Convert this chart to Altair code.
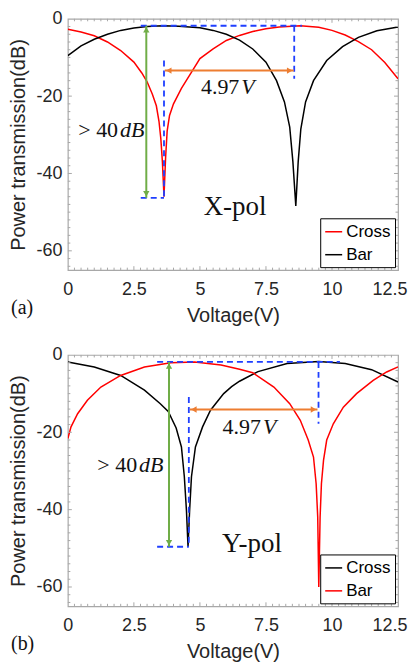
import altair as alt
import pandas as pd

# ---------------- data ----------------
# Panel (a) X-pol
A_CROSS_V = [0, 0.5, 1.0, 1.5, 2.0, 2.5, 2.8, 3.0, 3.2, 3.35, 3.45, 3.52, 3.58, 3.64, 3.70, 3.76, 3.85,
             4.0, 4.3, 4.7, 5.0, 5.5, 6.0, 6.5, 7.0, 7.5, 8.0, 8.8, 9.5, 10.0, 10.5, 11.0, 11.5, 12.0, 12.5]
A_CROSS_DB = [-2.7, -3.4, -4.4, -6.0, -8.2, -11.2, -14.0, -16.3, -19.5, -22.5, -26.5, -31, -37, -46, -36, -29, -25,
              -22, -18, -13.6, -10.3, -7.8, -5.6, -4.3, -3.3, -2.6, -2.1, -1.8, -2.2, -3.0, -4.2, -5.9, -8.0, -11.3, -15.5]
A_BAR_V = [0, 0.5, 1.0, 1.5, 2.0, 2.5, 3.0, 3.6, 4.2, 5.0, 5.5, 6.0, 6.5, 7.0, 7.5, 7.9, 8.2, 8.4, 8.52, 8.63,
           8.72, 8.82, 9.0, 9.3, 9.8, 10.4, 11.0, 11.7, 12.5]
A_BAR_DB = [-9.5, -7.0, -5.3, -4.0, -3.0, -2.4, -2.0, -1.8, -1.9, -2.3, -3.0, -4.0, -5.5, -7.8, -11.2, -16, -21.5,
            -28, -37, -48.4, -37, -28.5, -21.5, -16, -10.8, -7.2, -4.8, -3.1, -2.1]

# Panel (b) Y-pol
B_CROSS_V = [0, 1.0, 2.0, 2.9, 3.5, 3.8, 4.1, 4.3, 4.41, 4.49, 4.55, 4.61, 4.68, 4.83, 5.1, 5.4, 5.9, 6.2, 6.5,
             7.2, 8.3, 9.5, 10.5, 11.5, 12.5]
B_CROSS_DB = [-1.8, -3.1, -5.3, -9.1, -12.6, -14.6, -18.9, -23.8, -31.5, -40.2, -49.6, -40.2, -31.5, -23.8, -18.6,
              -14.3, -10, -8.2, -6.8, -4.3, -2.2, -1.7, -2.2, -3.8, -7.0]
B_BAR_V = [0, 0.12, 0.37, 0.74, 1.25, 2.0, 2.9, 3.9, 4.8, 5.8, 6.5, 7.0, 7.8, 8.4, 8.8, 9.1, 9.3, 9.4, 9.46, 9.5,
           9.55, 9.6, 9.68, 9.8, 10.05, 10.43, 10.93, 11.56, 12.07, 12.5]
B_BAR_DB = [-21.6, -18.6, -15.2, -11.7, -8.3, -5.3, -3.1, -2.0, -1.8, -2.6, -3.7, -4.6, -8.3, -12.6, -16.9, -22,
            -26.4, -33.3, -41.9, -60, -41.9, -33.3, -27.2, -22, -17.8, -13.5, -10, -6.6, -4.4, -3.1]

SERIES = ["Cross", "Bar"]
A_COLORS = ["#ff0000", "#000000"]
B_COLORS = ["#000000", "#ff0000"]

X_TICKS = [0, 2.5, 5, 7.5, 10, 12.5]
Y_TICKS = [0, -20, -40, -60]
X_MINOR = [i * 0.25 for i in range(0, 51)]
Y_MINOR = [-2 * i for i in range(0, 33)]

# annotations: dashed blue guides (x, x2, y, y2)
A_DASH = [(2.76, 8.86, -1.8, -1.8), (8.57, 8.57, -1.8, -15.5), (3.64, 3.64, -10.8, -46.3), (2.76, 3.64, -46.3, -46.3)]
B_DASH = [(3.38, 10.3, -1.8, -1.8), (9.49, 9.49, -1.8, -17.8), (4.58, 4.58, -10.9, -49.6), (3.38, 4.58, -49.6, -49.6)]
# green vertical arrow (x, y_top, y_bottom), orange horizontal arrow (y, x_left, x_right)
A_GREEN = (2.97, -1.8, -46.3)
B_GREEN = (3.83, -1.8, -49.6)
A_ORANGE = (-13.4, 3.67, 8.55)
B_ORANGE = (-14.1, 4.62, 9.45)
# texts: (split x, y) for "> 40"|"dB", "4.97"|"V", and (x, y) for pol label
A_DB_TXT = (1.94, -28.8)
B_DB_TXT = (2.66, -28.5)
A_V_TXT = (6.53, -17.7)
B_V_TXT = (7.35, -18.6)
A_POL = (6.33, -48.8, "X-pol")
B_POL = (6.97, -48.8, "Y-pol")

W, H = 331, 252
SANS = "Liberation Sans"
SERIF = "Liberation Serif"
BLUE = "#1f3fff"
GREEN = "#70ad47"
ORANGE = "#ed7d31"
FRAME = "#a8a8a8"

xs = alt.Scale(domain=[0, 12.5], nice=False, zero=False)
ys = alt.Scale(domain=[-65, 0], nice=False, zero=False)
xax = alt.Axis(values=X_TICKS, labelExpr="datum.value + ''", title="Voltage(V)", grid=False, ticks=False,
               tickSize=0, domain=False, labelPadding=10, titlePadding=7, labelFlush=False,
               labelAlign={"condition": {"test": "datum.value == 12.5", "value": "right"}, "value": "center"},
               labelOffset={"condition": {"test": "datum.value == 12.5", "value": 9}, "value": 0})
yax = alt.Axis(values=Y_TICKS, labelExpr="datum.value + ''", title="Power transmission(dB)", grid=False,
               ticks=False, tickSize=0, domain=False, labelPadding=6, titlePadding=7, labelFlush=False)


def X(f):
    return alt.X(f, scale=xs, axis=xax)


def Y(f):
    return alt.Y(f, scale=ys, axis=yax)


def inward_ticks():
    layers = []
    xd = pd.DataFrame({"v": X_MINOR, "len": [4 if abs(v / 2.5 - round(v / 2.5)) < 1e-9 else 2.5 for v in X_MINOR]})
    yd = pd.DataFrame({"v": Y_MINOR, "len": [4 if v % 20 == 0 else 2.5 for v in Y_MINOR]})
    for side in ("bottom", "top"):
        base = alt.Chart(xd).transform_filter("datum.v > 0 && datum.v < 12.5")
        if side == "bottom":
            base = base.transform_calculate(p0=str(H), p1=f"{H} - datum.len")
        else:
            base = base.transform_calculate(p0="0", p1="datum.len")
        layers.append(base.mark_rule(color=FRAME, strokeWidth=1).encode(
            x=X("v:Q"), y=alt.Y("p0:Q", scale=None, axis=None), y2="p1:Q"))
    for side in ("left", "right"):
        base = alt.Chart(yd).transform_filter("datum.v < 0 && datum.v > -65")
        if side == "left":
            base = base.transform_calculate(p0="0", p1="datum.len")
        else:
            base = base.transform_calculate(p0=str(W), p1=f"{W} - datum.len")
        layers.append(base.mark_rule(color=FRAME, strokeWidth=1).encode(
            y=Y("v:Q"), x=alt.X("p0:Q", scale=None, axis=None), x2="p1:Q"))
    return layers


def panel(cv, cd, bv, bd, colors, dash, green, orange, dbt, vt, pol, label):
    rows = [{"V": v, "dB": d, "series": "Cross"} for v, d in zip(cv, cd)]
    rows += [{"V": v, "dB": d, "series": "Bar"} for v, d in zip(bv, bd)]
    df = pd.DataFrame(rows)
    lines = alt.Chart(df).mark_line(strokeWidth=1.5, clip=True).encode(
        x=X("V:Q"), y=Y("dB:Q"),
        color=alt.Color("series:N", scale=alt.Scale(domain=SERIES, range=colors),
                        legend=alt.Legend(title=None, orient="bottom-right", offset=3, padding=4,
                                          strokeColor="black", fillColor="white", labelFont=SANS,
                                          labelFontSize=17, labelColor="black", symbolType="stroke",
                                          symbolSize=289, symbolStrokeWidth=1.5, rowPadding=5,
                                          labelOffset=3)),
        order=alt.Order("V:Q"),
    )
    dd = pd.DataFrame(dash, columns=["x", "x2", "y", "y2"])
    dashes = alt.Chart(dd).mark_rule(color=BLUE, strokeWidth=1.8, strokeDash=[6, 4]).encode(
        x=X("x:Q"), x2="x2:Q", y=Y("y:Q"), y2="y2:Q")
    gd = pd.DataFrame([{"x": green[0], "y": green[1], "y2": green[2]}])
    grule = alt.Chart(gd).mark_rule(color=GREEN, strokeWidth=2).encode(x=X("x:Q"), y=Y("y:Q"), y2="y2:Q")
    gtop = alt.Chart(gd).mark_point(shape="triangle-up", filled=True, color=GREEN, size=40, opacity=1,
                                    yOffset=4).encode(x=X("x:Q"), y=Y("y:Q"))
    gbot = alt.Chart(gd).mark_point(shape="triangle-down", filled=True, color=GREEN, size=40, opacity=1,
                                    yOffset=-4).encode(x=X("x:Q"), y=Y("y2:Q"))
    od = pd.DataFrame([{"y": orange[0], "x": orange[1], "x2": orange[2]}])
    orule = alt.Chart(od).mark_rule(color=ORANGE, strokeWidth=2).encode(x=X("x:Q"), x2="x2:Q", y=Y("y:Q"))
    oleft = alt.Chart(od).mark_point(shape="triangle-left", filled=True, color=ORANGE, size=40, opacity=1,
                                     xOffset=4).encode(x=X("x:Q"), y=Y("y:Q"))
    oright = alt.Chart(od).mark_point(shape="triangle-right", filled=True, color=ORANGE, size=40, opacity=1,
                                      xOffset=-4).encode(x=X("x2:Q"), y=Y("y:Q"))
    t1 = pd.DataFrame([{"x": dbt[0], "y": dbt[1], "a": "> 40", "b": "dB"}])
    t2 = pd.DataFrame([{"x": vt[0], "y": vt[1], "a": "4.97", "b": "V"}])
    tpol = pd.DataFrame([{"x": pol[0], "y": pol[1], "t": pol[2]}])
    texts = []
    for t in (t1, t2):
        texts.append(alt.Chart(t).mark_text(font=SERIF, fontSize=22, align="right", baseline="middle",
                                            color="#111", dx=-1).encode(x=X("x:Q"), y=Y("y:Q"), text="a:N"))
        texts.append(alt.Chart(t).mark_text(font=SERIF, fontSize=22, fontStyle="italic", align="left",
                                            baseline="middle", color="#111", dx=1).encode(
            x=X("x:Q"), y=Y("y:Q"), text="b:N"))
    ptxt = alt.Chart(tpol).mark_text(font=SERIF, fontSize=27, align="center", baseline="middle",
                                     color="#111").encode(x=X("x:Q"), y=Y("y:Q"), text="t:N")
    lab = alt.Chart(pd.DataFrame({"t": [label]})).mark_text(
        font=SERIF, fontSize=20, align="left", baseline="middle", color="#111").encode(
        text="t:N", x=alt.value(-57), y=alt.value(H + 38))
    return alt.layer(lines, *inward_ticks(), dashes, grule, gtop, gbot, orule, oleft, oright, *texts, ptxt,
                     lab).properties(width=W, height=H)


pa = panel(A_CROSS_V, A_CROSS_DB, A_BAR_V, A_BAR_DB, A_COLORS, A_DASH, A_GREEN, A_ORANGE,
           A_DB_TXT, A_V_TXT, A_POL, "(a)")
pb = panel(B_CROSS_V, B_CROSS_DB, B_BAR_V, B_BAR_DB, B_COLORS, B_DASH, B_GREEN, B_ORANGE,
           B_DB_TXT, B_V_TXT, B_POL, "(b)")

chart = alt.vconcat(pa, pb, spacing=19).resolve_scale(color="independent").resolve_legend(
    color="independent").properties(padding=0).configure_view(
    stroke=FRAME, strokeWidth=1.2).configure_axis(
    labelFont=SANS, labelFontSize=18, labelColor="#262626", titleFont=SANS, titleFontSize=20,
    titleColor="#262626", titleFontWeight="normal")

chart.save("out.html", embed_options={"renderer": "svg", "actions": False})
